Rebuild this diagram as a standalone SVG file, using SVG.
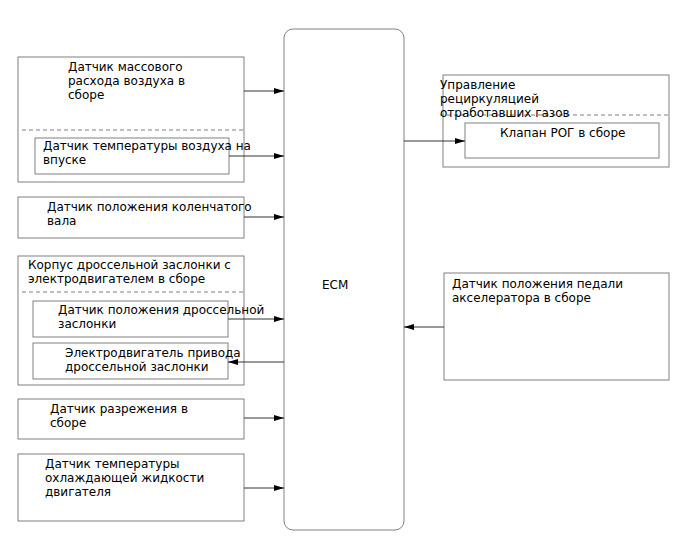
<svg xmlns="http://www.w3.org/2000/svg" width="688" height="560" viewBox="0 0 688 560">
<defs>
<marker id="ah" markerWidth="10" markerHeight="6" refX="10" refY="3" orient="auto" markerUnits="userSpaceOnUse">
<path d="M0,0 L10,3 L0,6 z" fill="#000"/>
</marker>
<style>
.b{fill:#fff;stroke:#808080;stroke-width:1}
.d{stroke:#808080;stroke-width:1;stroke-dasharray:4,3;fill:none}
.c{stroke:#333;stroke-width:1;fill:none;marker-end:url(#ah)}
text{font-family:"DejaVu Sans",sans-serif;font-size:12px;fill:#000}
</style>
</defs>
<rect width="688" height="560" fill="#fff"/>
<g id="ecm"><rect class="b" x="284" y="29" width="120" height="501" rx="9"/><text x="322" y="289">ECM</text></g>
<g id="maf"><rect class="b" x="18" y="57" width="226" height="125"/>
<text x="68" y="71">Датчик массового</text><text x="68" y="85">расхода воздуха в</text><text x="68" y="99">сборе</text>
<line class="d" x1="22" y1="130" x2="244" y2="130"/></g>
<g id="iat"><rect class="b" x="35" y="138" width="194" height="36"/>
<text x="43" y="150">Датчик температуры воздуха на</text><text x="43" y="164">впуске</text></g>
<g id="ckp"><rect class="b" x="18" y="197" width="226" height="41"/>
<text x="47" y="211">Датчик положения коленчатого</text><text x="47" y="225">вала</text></g>
<g id="tb"><rect class="b" x="18" y="256" width="226" height="129"/>
<text x="28" y="269">Корпус дроссельной заслонки с</text><text x="28" y="283">электродвигателем в сборе</text>
<line class="d" x1="22" y1="292" x2="244" y2="292"/></g>
<g id="tps"><rect class="b" x="33" y="301" width="195" height="36"/>
<text x="58" y="314">Датчик положения дроссельной</text><text x="58" y="328">заслонки</text></g>
<g id="motor"><rect class="b" x="33" y="343" width="195" height="36"/>
<text x="65" y="357">Электродвигатель привода</text><text x="65" y="371">дроссельной заслонки</text></g>
<g id="map"><rect class="b" x="18" y="399" width="226" height="40"/>
<text x="50" y="413">Датчик разрежения в</text><text x="50" y="427">сборе</text></g>
<g id="ect"><rect class="b" x="18" y="454" width="226" height="67"/>
<text x="45" y="468">Датчик температуры</text><text x="45" y="482">охлаждающей жидкости</text><text x="45" y="496">двигателя</text></g>
<g id="egr"><rect class="b" x="443" y="75" width="226" height="92"/>
<text x="440" y="89">Управление</text><text x="440" y="103">рециркуляцией</text>
<line class="d" x1="440" y1="115" x2="669" y2="115"/>
<text x="440" y="117">отработавших газов</text></g>
<g id="egrv"><rect class="b" x="465" y="123" width="194" height="35"/>
<text x="500" y="137">Клапан РОГ в сборе</text></g>
<g id="app"><rect class="b" x="444" y="273" width="225" height="107"/>
<text x="452" y="288">Датчик положения педали</text><text x="452" y="302">акселератора в сборе</text></g>
<g id="connectors">
<line class="c" x1="244" y1="91" x2="284" y2="91"/>
<line class="c" x1="229" y1="156" x2="284" y2="156"/>
<line class="c" x1="244" y1="217" x2="284" y2="217"/>
<line class="c" x1="228" y1="319" x2="284" y2="319"/>
<line class="c" x1="284" y1="362" x2="228" y2="362"/>
<line class="c" x1="244" y1="418" x2="284" y2="418"/>
<line class="c" x1="244" y1="488" x2="284" y2="488"/>
<line class="c" x1="404" y1="141" x2="465" y2="141"/>
<line class="c" x1="444" y1="327" x2="404" y2="327"/>
</g>
</svg>
